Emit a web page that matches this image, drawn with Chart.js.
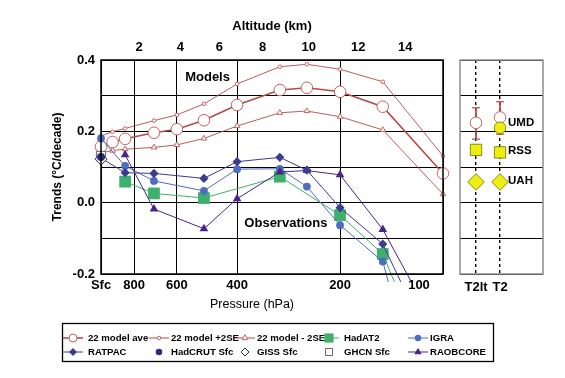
<!DOCTYPE html>
<html><head><meta charset="utf-8">
<script src="https://cdn.jsdelivr.net/npm/chart.js@4/dist/chart.umd.min.js"></script>
<style>
html,body{margin:0;padding:0;background:#fff;}
#wrap{position:relative;width:565px;height:378px;overflow:hidden;background:#fff;}
#main{position:absolute;left:0;top:0;}
#msu{position:absolute;left:448px;top:0;}
</style></head><body>
<div id="wrap"><canvas id="main" width="565" height="378"></canvas><canvas id="msu" width="117" height="378"></canvas></div>
<script>
// ---------- DATA ----------
const pressureTicks = [1000, 800, 600, 400, 200, 100];
const pressureTickLabels = ['Sfc', '800', '600', '400', '200', '100'];
const altitudeKm = [2, 4, 6, 8, 10, 12, 14];
const altitudePressure = [774, 586, 451, 337, 247, 177, 129];

const modelLevels = [1000, 925, 850, 700, 600, 500, 400, 300, 250, 200, 150, 100];
const modelAve = [0.157, 0.170, 0.179, 0.196, 0.206, 0.231, 0.274, 0.316, 0.322, 0.311, 0.269, 0.082];
const modelPlus2SE = [0.187, 0.199, 0.208, 0.230, 0.246, 0.277, 0.333, 0.381, 0.388, 0.374, 0.339, 0.131];
const modelMinus2SE = [0.140, 0.146, 0.150, 0.155, 0.162, 0.180, 0.215, 0.252, 0.257, 0.241, 0.204, 0.024];

const hadat2Levels = [850, 700, 500, 300, 200, 150, 100];
const hadat2 = [0.059, 0.026, 0.013, 0.073, -0.035, -0.144, -0.55];
const igraLevels = [1000, 850, 700, 500, 400, 300, 250, 200, 150, 100];
const igra = [0.180, 0.103, 0.061, 0.033, 0.094, 0.095, 0.045, -0.063, -0.165, -0.78];
const ratpacLevels = [1000, 850, 700, 500, 400, 300, 250, 200, 150, 100];
const ratpac = [0.125, 0.084, 0.082, 0.068, 0.115, 0.127, 0.091, -0.014, -0.116, -0.47];
const raobcoreLevels = [850, 700, 500, 400, 300, 250, 200, 150, 100];
const raobcore = [0.134, -0.018, -0.073, 0.011, 0.086, 0.090, 0.078, -0.075, -0.385];
const surfaceLevel = [1000];
const hadcrutSfc = [0.128];
const gissSfc = [0.122];
const ghcnSfc = [0.131];

const annotTexts = ['Models', 'Observations'];
const annotPressure = [488, 288];
const annotValue = [0.35, -0.057];

const msuColumns = ['T2lt', 'T2'];
const msuModel = [0.224, 0.239];
const msuModelHigh = [0.266, 0.283];
const msuModelLow = [0.178, 0.192];
const msuUMD = [null, 0.210];
const msuRSS = [0.148, 0.141];
const msuUAH = [0.058, 0.058];
const msuLabels = ['UMD', 'RSS', 'UAH'];
const msuLabelValues = [0.225, 0.146, 0.060];

// ---------- HELPERS ----------
const FONT = "'Liberation Sans', Arial, Helvetica, sans-serif";
Chart.defaults.font.family = FONT;
Chart.defaults.color = '#000';
const pts = (xs, ys) => xs.map((x, i) => ({x: x, y: ys[i]})).filter(p => p.y !== null);

const C_MODEL = '#b44a4a';
const C_MODELPT = '#c46262';
const C_RATPAC = '#3b3b92';
const C_IGRA = '#4f6cbf';
const C_HADAT = '#3fb06c';
const C_RAOB = '#4a2488';
const C_HADCRUT = '#2c2c7c';

const obsClip = {left: 6, right: 6, top: 6, bottom: 8};

const datasets = [
  {label: '22 model ave', data: pts(modelLevels, modelAve), borderColor: C_MODEL, borderWidth: 1.6,
   pointStyle: 'circle', pointRadius: 5.8, pointBackgroundColor: '#fff', pointBorderColor: C_MODELPT, pointBorderWidth: 1, order: 4, clip: false},
  {label: '22 model +2SE', data: pts(modelLevels, modelPlus2SE), borderColor: C_MODEL, borderWidth: 0.9,
   pointStyle: 'circle', pointRadius: 1.8, pointBackgroundColor: '#fff', pointBorderColor: C_MODELPT, pointBorderWidth: 1, order: 4, clip: false},
  {label: '22 model - 2SE', data: pts(modelLevels, modelMinus2SE), borderColor: C_MODEL, borderWidth: 0.9,
   pointStyle: 'triangle', pointRadius: 3.2, pointBackgroundColor: '#fff', pointBorderColor: C_MODELPT, pointBorderWidth: 1, order: 4, clip: false},
  {label: 'HadAT2', data: pts(hadat2Levels, hadat2), borderColor: C_HADAT, borderWidth: 1,
   pointStyle: 'rect', pointRadius: 8.3, pointBackgroundColor: C_HADAT, pointBorderColor: C_HADAT, pointBorderWidth: 0, order: 3, clip: obsClip},
  {label: 'IGRA', data: pts(igraLevels, igra), borderColor: C_IGRA, borderWidth: 1,
   pointStyle: 'circle', pointRadius: 3.9, pointBackgroundColor: C_IGRA, pointBorderColor: C_IGRA, pointBorderWidth: 0, order: 2, clip: obsClip},
  {label: 'RATPAC', data: pts(ratpacLevels, ratpac), borderColor: C_RATPAC, borderWidth: 1,
   pointStyle: 'rectRot', pointRadius: 4.6, pointBackgroundColor: C_RATPAC, pointBorderColor: C_RATPAC, pointBorderWidth: 0, order: 1, clip: obsClip},
  {label: 'HadCRUT Sfc', data: pts(surfaceLevel, hadcrutSfc), showLine: false,
   pointStyle: 'circle', pointRadius: 4, pointBackgroundColor: C_HADCRUT, pointBorderColor: C_HADCRUT, pointBorderWidth: 0, order: 0, clip: false},
  {label: 'GISS Sfc', data: pts(surfaceLevel, gissSfc), showLine: false,
   pointStyle: 'rectRot', pointRadius: 6, pointBackgroundColor: '#fff', pointBorderColor: '#333', pointBorderWidth: 1, order: 0, clip: false},
  {label: 'GHCN Sfc', data: pts(surfaceLevel, ghcnSfc), showLine: false,
   pointStyle: 'rect', pointRadius: 6.5, pointBackgroundColor: '#fff', pointBorderColor: '#666', pointBorderWidth: 1, order: 0, clip: false},
  {label: 'RAOBCORE', data: pts(raobcoreLevels, raobcore), borderColor: C_RAOB, borderWidth: 1,
   pointStyle: 'triangle', pointRadius: 5, pointBackgroundColor: C_RAOB, pointBorderColor: C_RAOB, pointBorderWidth: 0, order: 1, clip: obsClip}
];

function marker(ctx, style, x, y, r, fill, stroke, lw) {
  ctx.save();
  ctx.beginPath();
  if (style === 'circle') ctx.arc(x, y, r, 0, Math.PI * 2);
  else if (style === 'rect') { const s = r * Math.SQRT1_2; ctx.rect(x - s, y - s, 2 * s, 2 * s); }
  else if (style === 'rectRot') { ctx.moveTo(x - r, y); ctx.lineTo(x, y - r); ctx.lineTo(x + r, y); ctx.lineTo(x, y + r); ctx.closePath(); }
  else if (style === 'triangle') {
    for (let k = 0; k < 3; k++) { const a = k * 2 * Math.PI / 3; const px = x + Math.sin(a) * r, py = y - Math.cos(a) * r; k ? ctx.lineTo(px, py) : ctx.moveTo(px, py); }
    ctx.closePath();
  }
  if (fill) { ctx.fillStyle = fill; ctx.fill(); }
  if (stroke && lw) { ctx.strokeStyle = stroke; ctx.lineWidth = lw; ctx.stroke(); }
  ctx.restore();
}

// legend layout: [datasetIndex, column, row, markerRadius]
const legendLayout = [
  [0, 0, 0, 4], [1, 1, 0, 1.8], [2, 2, 0, 3.3], [3, 3, 0, 6.5], [4, 4, 0, 3.2],
  [5, 0, 1, 4], [6, 1, 1, 3.3], [7, 2, 1, 4], [8, 3, 1, 5], [9, 4, 1, 4.3]
];
const legendMarkerX = [73, 159, 245, 329, 418];
const legendTextX = [88, 171, 257, 344, 430];
const legendRowY = [338, 352];

const mainPlugin = {
  id: 'mainDecor',
  afterDraw(chart) {
    const ctx = chart.ctx, a = chart.chartArea, xs = chart.scales.x, ys = chart.scales.y;
    ctx.save();
    ctx.strokeStyle = '#000'; ctx.lineWidth = 1.5;
    ctx.strokeRect(a.left, a.top, a.right - a.left, a.bottom - a.top);
    ctx.fillStyle = '#000';
    ctx.textAlign = 'center'; ctx.textBaseline = 'middle';
    ctx.font = 'bold 13px ' + FONT;
    // last pressure tick label sits inside the right edge
    const li = pressureTicks.length - 1;
    ctx.fillText(pressureTickLabels[li], xs.getPixelForValue(pressureTicks[li]) - 24, a.bottom + 11);
    for (let i = 0; i < annotTexts.length; i++) {
      ctx.fillText(annotTexts[i], xs.getPixelForValue(annotPressure[i]), ys.getPixelForValue(annotValue[i]));
    }
    ctx.font = '12.5px ' + FONT;
    ctx.fillText('Pressure (hPa)', 252, 305);
    // legend
    ctx.strokeStyle = '#000'; ctx.lineWidth = 1.3;
    ctx.strokeRect(62.5, 323.5, 431, 38);
    ctx.font = 'bold 9.6px ' + FONT;
    ctx.textAlign = 'left';
    legendLayout.forEach(([di, col, row, r]) => {
      const ds = chart.data.datasets[di];
      const mx = legendMarkerX[col], y = legendRowY[row];
      if (ds.showLine !== false) {
        ctx.save(); ctx.strokeStyle = ds.borderColor; ctx.lineWidth = Math.max(1, ds.borderWidth);
        ctx.beginPath(); ctx.moveTo(mx - 10, y); ctx.lineTo(mx + 10, y); ctx.stroke(); ctx.restore();
      }
      marker(ctx, ds.pointStyle, mx, y, r, ds.pointBackgroundColor, ds.pointBorderColor, ds.pointBorderWidth);
      ctx.fillStyle = '#000';
      ctx.fillText(ds.label, legendTextX[col], y + 0.5);
    });
    ctx.restore();
  }
};

new Chart(document.getElementById('main'), {
  type: 'line',
  data: {datasets: datasets},
  options: {
    responsive: false, animation: false,
    layout: {padding: {left: 0, right: 122, top: 0, bottom: 0}},
    plugins: {legend: {display: false}, tooltip: {enabled: false}},
    elements: {line: {tension: 0}},
    scales: {
      x: {
        type: 'logarithmic', position: 'bottom', reverse: true, min: 100, max: 1000,
        afterBuildTicks: s => { s.ticks = pressureTicks.map(v => ({value: v})); },
        afterFit: s => { s.height = 104; },
        ticks: {callback: (v, i) => (i === pressureTicks.length - 1 ? '' : pressureTickLabels[i]),
                padding: 4, font: {size: 13, weight: 'bold'}, color: '#000', maxRotation: 0, autoSkip: false},
        grid: {color: '#000', lineWidth: 1, drawTicks: false},
        border: {display: false}
      },
      xTop: {
        type: 'logarithmic', position: 'top', reverse: true, min: 100, max: 1000,
        afterBuildTicks: s => { s.ticks = altitudePressure.map(v => ({value: v})); },
        afterFit: s => { s.height = 60; },
        ticks: {callback: (v, i) => String(altitudeKm[i]), padding: 5, font: {size: 13, weight: 'bold'}, color: '#000', maxRotation: 0, autoSkip: false},
        grid: {display: false, drawTicks: false},
        border: {display: false},
        title: {display: true, text: 'Altitude (km)', font: {size: 13, weight: 'bold'}, color: '#000', padding: {top: 19, bottom: 0}}
      },
      y: {
        min: -0.2, max: 0.4,
        afterFit: s => { s.width = 101; },
        ticks: {stepSize: 0.1, callback: v => (Math.round(v * 10) % 2 === 0 ? v.toFixed(1) : ''),
                padding: 6, font: {size: 13, weight: 'bold'}, color: '#000'},
        grid: {color: '#000', lineWidth: 1, drawTicks: false},
        border: {display: false},
        title: {display: true, text: 'Trends (°C/decade)', font: {size: 12, weight: 'bold'}, color: '#000', padding: {top: 50, bottom: 0}}
      }
    }
  },
  plugins: [mainPlugin]
});

// ---------- MSU panel ----------
const YEL = '#eeee10', YEL_B = '#8a8a10';
const msuDatasets = [
  {data: [{x: 0, y: msuModelHigh[0]}, {x: 0, y: msuModelLow[0]}], borderColor: C_MODEL, borderWidth: 1,
   pointStyle: 'line', pointRadius: 4, pointBorderColor: C_MODEL, pointBorderWidth: 1.2, order: 6},
  {data: [{x: 1, y: msuModelHigh[1]}, {x: 1, y: msuModelLow[1]}], borderColor: C_MODEL, borderWidth: 1,
   pointStyle: 'line', pointRadius: 4, pointBorderColor: C_MODEL, pointBorderWidth: 1.2, order: 6},
  {data: pts([0, 1], msuModel), showLine: false, pointStyle: 'circle', pointRadius: 5.8,
   pointBackgroundColor: '#fff', pointBorderColor: C_MODELPT, pointBorderWidth: 1, order: 5},
  {data: pts([0, 1], msuUMD), showLine: false, pointStyle: 'circle', pointRadius: 5.8,
   pointBackgroundColor: YEL, pointBorderColor: YEL_B, pointBorderWidth: 1, order: 4},
  {data: pts([0, 1], msuRSS), showLine: false, pointStyle: 'rect', pointRadius: 8,
   pointBackgroundColor: YEL, pointBorderColor: YEL_B, pointBorderWidth: 1, order: 4},
  {data: pts([0, 1], msuUAH), showLine: false, pointStyle: 'rectRot', pointRadius: 8.3,
   pointBackgroundColor: YEL, pointBorderColor: YEL_B, pointBorderWidth: 1, order: 4}
];

const msuPlugin = {
  id: 'msuDecor',
  afterDraw(chart) {
    const ctx = chart.ctx, a = chart.chartArea, xs = chart.scales.x, ys = chart.scales.y;
    ctx.save();
    ctx.strokeStyle = '#8c8c8c'; ctx.lineWidth = 1.5;
    ctx.strokeRect(a.left, a.top, a.right - a.left, a.bottom - a.top);
    ctx.fillStyle = '#000'; ctx.font = 'bold 11.5px ' + FONT;
    ctx.textAlign = 'left'; ctx.textBaseline = 'middle';
    for (let i = 0; i < msuLabels.length; i++) {
      ctx.fillText(msuLabels[i], xs.getPixelForValue(1) + 8, ys.getPixelForValue(msuLabelValues[i]));
    }
    ctx.restore();
  }
};

new Chart(document.getElementById('msu'), {
  type: 'line',
  data: {datasets: msuDatasets},
  options: {
    responsive: false, animation: false,
    layout: {padding: {left: 12, right: 22, top: 60, bottom: 0}},
    plugins: {legend: {display: false}, tooltip: {enabled: false}},
    scales: {
      x: {
        type: 'linear', min: -0.667, max: 2.79,
        afterBuildTicks: s => { s.ticks = msuColumns.map((c, i) => ({value: i})); },
        afterFit: s => { s.height = 104; },
        ticks: {callback: (v, i) => msuColumns[i], padding: 6, font: {size: 13, weight: 'bold'}, color: '#000', maxRotation: 0, autoSkip: false},
        grid: {color: '#000', lineWidth: 1.4, drawTicks: false},
        border: {display: false, dash: [3, 3]}
      },
      y: {
        min: -0.2, max: 0.4,
        afterFit: s => { s.width = 0; },
        ticks: {display: false, stepSize: 0.1},
        grid: {color: '#000', lineWidth: 1, drawTicks: false},
        border: {display: false}
      }
    }
  },
  plugins: [msuPlugin]
});
</script>
</body></html>
